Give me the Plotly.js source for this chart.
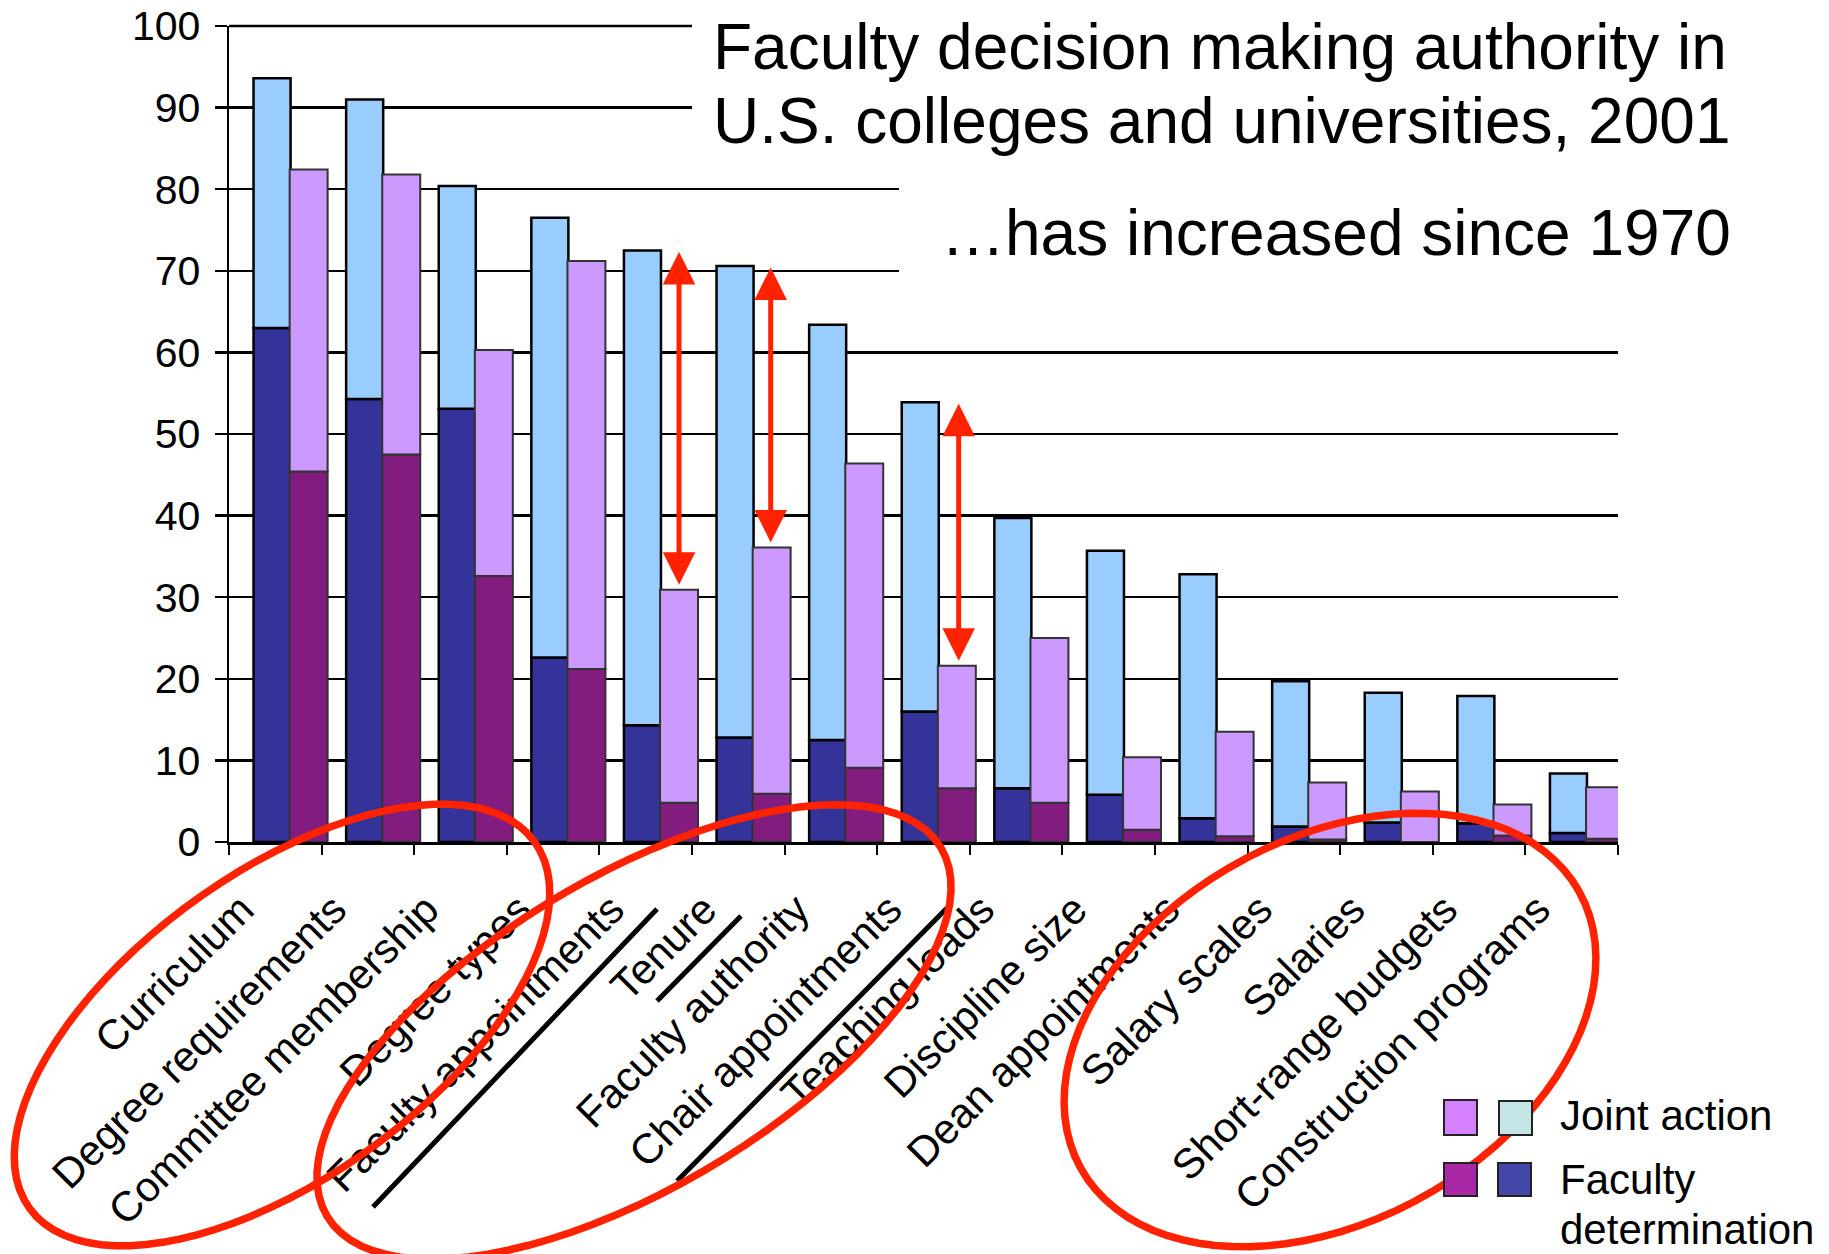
<!DOCTYPE html>
<html>
<head>
<meta charset="utf-8">
<script src="https://cdn.plot.ly/plotly-3.0.1.min.js"></script>
<style>html,body{margin:0;padding:0;background:#fff}</style>
</head>
<body>
<div id="chart" style="width:1829px;height:1254px"></div>
<script>
const categories = ["Curriculum","Degree requirements","Committee membership","Degree types","Faculty appointments","Tenure","Faculty authority","Chair appointments","Teaching loads","Discipline size","Dean appointments","Salary scales","Salaries","Short-range budgets","Construction programs"];
// 2001 (blue bars)
const faculty2001 = [63.0, 54.3, 53.1, 22.6, 14.3, 12.8, 12.5, 16.0, 6.6, 5.8, 2.9, 1.9, 2.4, 2.3, 1.1];
const joint2001   = [30.6, 36.7, 27.3, 53.9, 58.2, 57.8, 50.9, 37.9, 33.1, 29.9, 29.9, 17.8, 15.9, 15.6, 7.3];
// 1970 (purple bars)
const faculty1970 = [45.4, 47.5, 32.6, 21.2, 4.8, 5.9, 9.1, 6.6, 4.8, 1.5, 0.7, 0.3, 0.0, 0.8, 0.4];
const joint1970   = [37.0, 34.3, 27.7, 50.0, 26.1, 30.2, 37.3, 15.0, 20.2, 8.9, 12.8, 7.0, 6.2, 3.8, 6.3];
const yTicks = [0,10,20,30,40,50,60,70,80,90,100];
const titleLines = ["Faculty decision making authority in", "U.S. colleges and universities, 2001", "\u2026has increased since 1970"];
const legendLabels = ["Joint action", "Faculty", "determination"];
const arrowCats = [4, 5, 7];

const FONT = "Liberation Sans, Arial, Helvetica, sans-serif";
const L=229, R=1618, T=26, B=842, W=R-L, H=B-T;
const px = x => (x-L)/W;
const py = y => (B-y)/H;

const blueOff = -0.235, blueW = 0.40, purOff = 0.155, purW = 0.41;

function barTrace(name, y, base, color, off, w, lineColor, lineW){
  const t = {type:'bar', name:name, x:categories, y:y, offset:off, width:w,
    marker:{color:color, line:{color:lineColor, width:lineW}}, hoverinfo:'x+y+name'};
  if(base) t.base = base;
  return t;
}
const traces = [
  barTrace('2001 Faculty determination', faculty2001, null, '#333399', blueOff, blueW, '#000', 2.5),
  barTrace('2001 Joint action', joint2001, faculty2001, '#99CCFF', blueOff, blueW, '#000', 2.5),
  barTrace('1970 Faculty determination', faculty1970, null, '#821C7E', purOff, purW, '#333', 2),
  barTrace('1970 Joint action', joint1970, faculty1970, '#CC99FF', purOff, purW, '#333', 2)
];

function ellipsePath(cx, cy, a, b, deg){
  const th = deg*Math.PI/180;
  const ux = Math.cos(th), uy = -Math.sin(th);
  const nx = Math.sin(th), ny = Math.cos(th);
  let p = '';
  for(let k=0;k<=90;k++){
    const t = k/90*2*Math.PI;
    const x = cx + a*Math.cos(t)*ux + b*Math.sin(t)*nx;
    const y = cy + a*Math.cos(t)*uy + b*Math.sin(t)*ny;
    p += (k===0?'M':'L') + px(x).toFixed(5) + ',' + py(y).toFixed(5);
  }
  return p + 'Z';
}

const RED = '#FF2200';
const shapes = [
  // top gridline (at 100) left of the title
  {type:'line', xref:'paper', yref:'paper', x0:0, x1:px(692), y0:1, y1:1, line:{color:'#000', width:2.5}, layer:'below'},
  // white boxes behind title text
  {type:'rect', xref:'paper', yref:'paper', x0:px(692), x1:px(1829), y0:py(150), y1:py(-10), fillcolor:'#fff', line:{width:0}, layer:'above'},
  {type:'rect', xref:'paper', yref:'paper', x0:px(899), x1:px(1829), y0:py(300), y1:py(165), fillcolor:'#fff', line:{width:0}, layer:'above'},
  // strike lines
  {type:'line', xref:'paper', yref:'paper', x0:px(373), y0:py(1207), x1:px(657), y1:py(909), line:{color:'#000', width:5}, layer:'above'},
  {type:'line', xref:'paper', yref:'paper', x0:px(657), y0:py(1001), x1:px(741), y1:py(916), line:{color:'#000', width:5}, layer:'above'},
  {type:'line', xref:'paper', yref:'paper', x0:px(677), y0:py(1181), x1:px(947), y1:py(908), line:{color:'#000', width:5}, layer:'above'},
  // red ellipses
  {type:'path', xref:'paper', yref:'paper', path:ellipsePath(282,1025,312,152,36), line:{color:RED, width:7.5}, layer:'above'},
  {type:'path', xref:'paper', yref:'paper', path:ellipsePath(634,1032,358,155,31), line:{color:RED, width:7.5}, layer:'above'},
  {type:'path', xref:'paper', yref:'paper', path:ellipsePath(1330,1030,285,191,29), line:{color:RED, width:7.5}, layer:'above'},
  // legend swatches
  {type:'rect', xref:'paper', yref:'paper', x0:px(1444), x1:px(1477), y0:py(1135), y1:py(1100), fillcolor:'#D580FF', line:{color:'#222', width:2}, layer:'above'},
  {type:'rect', xref:'paper', yref:'paper', x0:px(1499), x1:px(1532), y0:py(1135), y1:py(1101), fillcolor:'#C4E4E6', line:{color:'#222', width:2}, layer:'above'},
  {type:'rect', xref:'paper', yref:'paper', x0:px(1444), x1:px(1477), y0:py(1196), y1:py(1163), fillcolor:'#A828A6', line:{color:'#222', width:2}, layer:'above'},
  {type:'rect', xref:'paper', yref:'paper', x0:px(1498), x1:px(1531), y0:py(1196), y1:py(1163), fillcolor:'#4347A8', line:{color:'#222', width:2}, layer:'above'}
];

const annotations = [];
const titleY = [47, 121, 233];
const titleX = [711, 711, 939];
titleLines.forEach((t,i)=>{
  annotations.push({xref:'paper', yref:'paper', x:px(titleX[i]), y:py(titleY[i]), xanchor:'left', yanchor:'middle',
    text:t, showarrow:false, font:{family:FONT, size:64, color:'#000'}});
});
const legY = [1115, 1179, 1229];
legendLabels.forEach((t,i)=>{
  annotations.push({xref:'paper', yref:'paper', x:px(1558), y:py(legY[i]), xanchor:'left', yanchor:'middle',
    text:t, showarrow:false, font:{family:FONT, size:42, color:'#000'}});
});
const arrowX = [0.36, 0.35, 0.38];
arrowCats.forEach((c,i)=>{
  const top2001 = faculty2001[c] + joint2001[c];
  const top1970 = faculty1970[c] + joint1970[c];
  annotations.push({xref:'x', yref:'y', axref:'x', ayref:'y', x:c+arrowX[i], y:top1970, ax:c+arrowX[i], ay:top2001,
    text:'', showarrow:true, arrowhead:2, startarrowhead:2, arrowside:'end+start', arrowsize:1.3, startarrowsize:1.3,
    arrowwidth:5, arrowcolor:RED, standoff:5, startstandoff:0});
});

const layout = {
  width:1829, height:1254,
  margin:{l:L, r:1829-R, t:T, b:1254-B, pad:0},
  paper_bgcolor:'#fff', plot_bgcolor:'#fff',
  showlegend:false,
  barmode:'overlay',
  font:{family:FONT, color:'#000'},
  xaxis:{type:'category', range:[-0.5, categories.length-0.5], showgrid:false, zeroline:false,
    showline:true, linecolor:'#000', linewidth:3, ticks:'outside', tickson:'boundaries', ticklen:10, tickwidth:2, tickcolor:'#000',
    tickangle:-45, tickfont:{family:FONT, size:42, color:'#000'}, ticklabelstandoff:23, ticklabelshift:-34, fixedrange:true},
  yaxis:{range:[0,100], tickvals:yTicks, ticktext:yTicks.map(String), showgrid:true, gridcolor:'#000', gridwidth:2.5, zeroline:false,
    showline:true, linecolor:'#000', linewidth:2.5, ticks:'outside', ticklen:12, tickwidth:2.5, tickcolor:'#000',
    tickfont:{family:FONT, size:41, color:'#000'}, ticklabelstandoff:6, fixedrange:true},
  shapes:shapes,
  annotations:annotations
};

Plotly.newPlot('chart', traces, layout, {displayModeBar:false, staticPlot:true});
</script>
</body>
</html>
